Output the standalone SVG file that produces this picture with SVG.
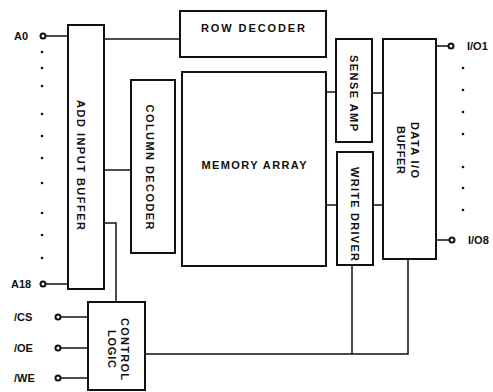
<svg xmlns="http://www.w3.org/2000/svg" width="493" height="392" viewBox="0 0 493 392">
<style>
.box{fill:#fff;stroke:#111;stroke-width:2}
.ln{fill:none;stroke:#111;stroke-width:1.5}
.pin{fill:#fff;stroke:#111;stroke-width:2}
.dot{fill:#111}
text{font-family:"Liberation Sans",Arial,sans-serif;fill:#111;font-size:11px;font-weight:bold}
.c{text-anchor:middle;dominant-baseline:central}
</style>
<rect width="493" height="392" fill="#fff"/>
<g id="connectors">
<path class="ln" d="M46 36H68"/>
<path class="ln" d="M46 284H68"/>
<path class="ln" d="M104 39H180"/>
<path class="ln" d="M104 170H131"/>
<path class="ln" d="M104 223H116V302"/>
<path class="ln" d="M61 317H88"/>
<path class="ln" d="M61 348H88"/>
<path class="ln" d="M61 378H88"/>
<path class="ln" d="M326 92H336"/>
<path class="ln" d="M372 93H383"/>
<path class="ln" d="M326 205H337"/>
<path class="ln" d="M373 205H383"/>
<path class="ln" d="M145 354H408V259"/>
<path class="ln" d="M352 265V354"/>
<path class="ln" d="M436 46H448"/>
<path class="ln" d="M436 240H449"/>
</g>
<g id="pins">
<circle class="pin" cx="43" cy="36" r="2.5"/>
<circle class="pin" cx="43" cy="284" r="2.5"/>
<circle class="pin" cx="58" cy="317" r="2.5"/>
<circle class="pin" cx="58" cy="348" r="2.5"/>
<circle class="pin" cx="58" cy="378" r="2.5"/>
<circle class="pin" cx="451" cy="46" r="2.5"/>
<circle class="pin" cx="452" cy="240" r="2.5"/>
<text x="14" y="40">A0</text>
<text x="11" y="288">A18</text>
<text x="14" y="321">/CS</text>
<text x="14" y="352">/OE</text>
<text x="14" y="382">/WE</text>
<text x="467" y="50">I/O1</text>
<text x="468" y="244">I/O8</text>
<g class="dot">
<circle cx="42" cy="52" r="1.3"/><circle cx="42" cy="68" r="1.3"/><circle cx="42" cy="86" r="1.3"/><circle cx="42" cy="114" r="1.3"/><circle cx="42" cy="136" r="1.3"/><circle cx="42" cy="158" r="1.3"/><circle cx="42" cy="183" r="1.3"/><circle cx="42" cy="213" r="1.3"/><circle cx="42" cy="235" r="1.3"/><circle cx="42" cy="258" r="1.3"/>
<circle cx="463" cy="68" r="1.3"/><circle cx="463" cy="90" r="1.3"/><circle cx="463" cy="112" r="1.3"/><circle cx="463" cy="134" r="1.3"/><circle cx="463" cy="167" r="1.3"/><circle cx="463" cy="188" r="1.3"/><circle cx="463" cy="210" r="1.3"/>
</g>
</g>
<g id="add-input-buffer">
<rect class="box" x="68" y="25" width="36" height="264"/>
<text class="c" transform="translate(81 165) rotate(90)" textLength="130" lengthAdjust="spacing">ADD INPUT BUFFER</text>
</g>
<g id="row-decoder">
<rect class="box" x="180" y="11" width="146" height="46"/>
<text class="c" x="253" y="28" textLength="104" lengthAdjust="spacing">ROW DECODER</text>
</g>
<g id="column-decoder">
<rect class="box" x="131" y="80" width="44" height="173"/>
<text class="c" transform="translate(150 167) rotate(90)" textLength="125" lengthAdjust="spacing">COLUMN DECODER</text>
</g>
<g id="memory-array">
<rect class="box" x="182" y="72" width="144" height="194"/>
<text class="c" x="254" y="165" textLength="105" lengthAdjust="spacing">MEMORY ARRAY</text>
</g>
<g id="sense-amp">
<rect class="box" x="336" y="39" width="36" height="103"/>
<text class="c" transform="translate(354 93) rotate(90)" textLength="76" lengthAdjust="spacing">SENSE AMP</text>
</g>
<g id="write-driver">
<rect class="box" x="337" y="152" width="36" height="113"/>
<text class="c" transform="translate(355 214) rotate(90)" textLength="94" lengthAdjust="spacing">WRITE DRIVER</text>
</g>
<g id="data-io-buffer">
<rect class="box" x="383" y="39" width="53" height="220"/>
<text class="c" transform="translate(415 150) rotate(90)" textLength="56" lengthAdjust="spacing">DATA I/O</text>
<text class="c" transform="translate(401 150) rotate(90)" textLength="48" lengthAdjust="spacing">BUFFER</text>
</g>
<g id="control-logic">
<rect class="box" x="88" y="302" width="57" height="88"/>
<text class="c" transform="translate(125 349) rotate(90)" textLength="62" lengthAdjust="spacing">CONTROL</text>
<text class="c" transform="translate(112 349) rotate(90)" textLength="38" lengthAdjust="spacing">LOGIC</text>
</g>
</svg>
